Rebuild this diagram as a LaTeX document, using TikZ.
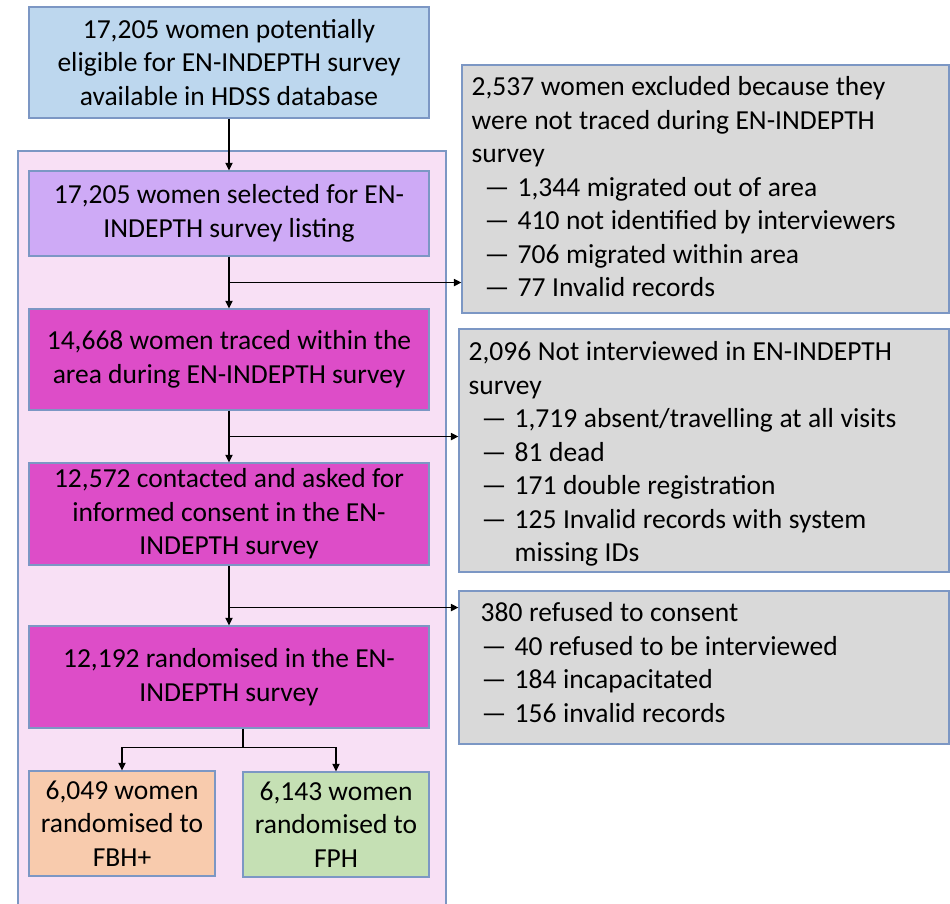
\documentclass[tikz,border=0pt]{standalone}
\usepackage{fontspec}
\setmainfont{Carlito}
\usetikzlibrary{arrows.meta,calc}
\definecolor{bxblue}{HTML}{BDD7EE}
\definecolor{bxlav}{HTML}{CEAAF6}
\definecolor{bxmag}{HTML}{DD4DC8}
\definecolor{bgpink}{HTML}{F8E0F5}
\definecolor{bxorange}{HTML}{F8CBAD}
\definecolor{bxgreen}{HTML}{C5E0B4}
\definecolor{bxgrey}{HTML}{D9D9D9}
\definecolor{bdr}{HTML}{7C97C4}
\newcommand{\dashitem}{\hspace*{13pt}\makebox[33pt][l]{—}}
\newcommand{\greyfont}{\fontsize{27.5}{33.5}\selectfont\spaceskip=6.6pt plus 1pt minus 0.5pt\relax}
\begin{document}
\begin{tikzpicture}[x=1pt,y=-1pt,
  font=\fontsize{27.5}{33.5}\selectfont,
  mainbox/.style={draw=bdr,line width=1.1pt,inner sep=0pt,align=center,minimum width=400pt},
  smallbox/.style={draw=bdr,line width=1.1pt,inner sep=0pt,align=center,minimum width=186pt,minimum height=105pt},
  greybox/.style={draw=bdr,line width=1.1pt,fill=bxgrey,inner sep=0pt},
  greytext/.style={inner sep=0pt,align=left,anchor=north west,font=\greyfont},
  arr/.style={line width=1.7pt,-{Triangle[length=7.5pt,width=7pt]}},
  ln/.style={line width=1.7pt}]
\clip (0,0) rectangle (950,904);
\fill[white] (0,0) rectangle (950,904);
% pink background panel
\node[draw=bdr,line width=1.1pt,fill=bgpink,minimum width=428pt,minimum height=770pt,inner sep=0pt] (panel) at (232,536) {};
% main column
\node[mainbox,fill=bxblue,minimum height=111pt] (top) at (229,62.5) {17,205 women potentially\\eligible for EN-INDEPTH survey\\available in HDSS database};
\node[mainbox,fill=bxlav,minimum height=85pt] (b2) at (229,213.5) {17,205 women selected for EN-\\INDEPTH survey listing};
\node[mainbox,fill=bxmag,minimum height=101pt] (b3) at (229,359.5) {14,668 women traced within the\\area during EN-INDEPTH survey};
\node[mainbox,fill=bxmag,minimum height=102pt] (b4) at (229,514) {12,572 contacted and asked for\\informed consent in the EN-\\INDEPTH survey};
\node[mainbox,fill=bxmag,minimum height=102pt] (b5) at (229,677) {12,192 randomised in the EN-\\INDEPTH survey};
\node[smallbox,fill=bxorange] (b6) at (122,823.5) {6,049 women\\randomised to\\FBH+};
\node[smallbox,fill=bxgreen] (b7) at (336,824.5) {6,143 women\\randomised to\\FPH};
% grey exclusion boxes
\node[greybox,minimum width=487pt,minimum height=248pt] (g1) at (705.5,189) {};
\node[greytext] (g1t) at ($(g1.north west)+(10,12)$) {2,537 women excluded because they\\were not traced during EN-INDEPTH\\survey\\\dashitem 1,344 migrated out of area\\\dashitem 410 not identified by interviewers\\\dashitem 706 migrated within area\\\dashitem 77 Invalid records};
\node[greybox,minimum width=490pt,minimum height=243pt] (g2) at (704,450.5) {};
\node[greytext] (g2t) at ($(g2.north west)+(10,13)$) {2,096 Not interviewed in EN-INDEPTH\\survey\\\dashitem 1,719 absent/travelling at all visits\\\dashitem 81 dead\\\dashitem 171 double registration\\\dashitem 125 Invalid records with system\\\hspace*{46pt}missing IDs};
\node[greybox,minimum width=490pt,minimum height=153pt] (g3) at (704,667.5) {};
\node[greytext] (g3t) at ($(g3.north west)+(10,12)$) {\hspace*{12pt}380 refused to consent\\\dashitem 40 refused to be interviewed\\\dashitem 184 incapacitated\\\dashitem 156 invalid records};
% connectors
\draw[arr] (top) -- (b2);
\draw[arr] (b2) -- (b3);
\draw[arr] (b3) -- (b4);
\draw[arr] (b4) -- (b5);
\coordinate (j1) at ($(b2.south)+(0,26)$);
\coordinate (j2) at ($(b3.south)+(0,26)$);
\coordinate (j3) at ($(b4.south)+(0,42)$);
\draw[arr] (j1) -- (j1 -| g1.west);
\draw[arr] (j2) -- (j2 -| g2.west);
\draw[arr] (j3) -- (j3 -| g3.west);
\coordinate (s5) at ($(b5.south)+(14,0)$);
\coordinate (j4) at ($(s5)+(0,19)$);
\draw[ln] (s5) -- (j4);
\draw[arr] (j4) -| (b6.north);
\draw[arr] (j4) -| (b7.north);
\end{tikzpicture}
\end{document}
